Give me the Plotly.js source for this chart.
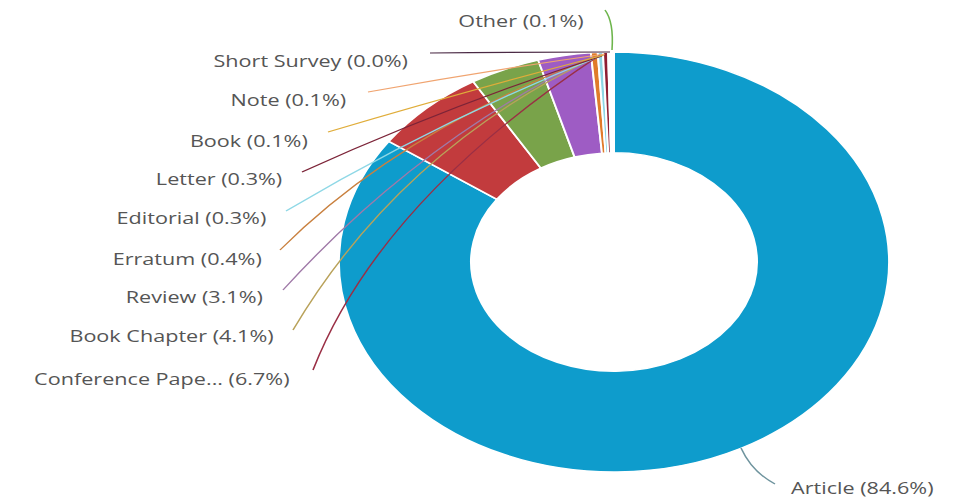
<!DOCTYPE html>
<html>
<head>
<meta charset="utf-8">
<script src="https://cdn.plot.ly/plotly-3.0.1.min.js"></script>
<style>
html,body{margin:0;padding:0;background:#fff;overflow:hidden;}
#wrap{width:956px;height:499px;overflow:hidden;}
#plot{width:730px;height:499px;transform:scaleX(1.309589);transform-origin:0 0;}
</style>
</head>
<body>
<div id="wrap"><div id="plot"></div></div>
<script>
// ---- data ----
const categories = ["Article","Conference Paper","Book Chapter","Review","Erratum","Editorial","Letter","Book","Note","Short Survey","Other"];
const shares = [84.6, 6.7, 4.1, 3.1, 0.4, 0.3, 0.3, 0.1, 0.1, 0.04, 0.1];
const sliceColors = ["#0e9ccc","#c23b3d","#79a34a","#9e5cc4","#e07b2a","#8dd6e4","#8e1f33","#e3a832","#f29a55","#4f2149","#6db54c"];

// ---- label layout (reference pixel positions) ----
// [textX, textY, anchor, lineStartX, lineStartY, ctrlX, ctrlY, lineEndX, lineEndY, lineColor]
const labelLayout = {
  "Article":          [789, 487, "left",  741, 448, 752, 472, 775, 484, "#6f949e"],
  "Conference Paper": [292, 378, "right", 313, 370, 380, 200, 600, 55, "#9a2f45"],
  "Book Chapter":     [276, 335, "right", 293, 330, 400, 150, 596, 57, "#b9a25a"],
  "Review":           [266, 296, "right", 283, 290, 420, 140, 592, 57, "#a07aa8"],
  "Erratum":          [264, 258, "right", 280, 250, 400, 130, 598, 56, "#c9803f"],
  "Editorial":        [269, 217, "right", 286, 211, 440, 120, 603, 55, "#8fd8e6"],
  "Letter":           [285, 178, "right", 302, 172, 450, 105, 602, 56, "#7c2438"],
  "Book":             [311, 140, "right", 328, 132, 470, 90, 604, 55, "#e0ad3a"],
  "Note":             [348, 100, "right", 368, 92, 490, 70, 605, 54, "#f0a470"],
  "Short Survey":     [411, 60,  "right", 430, 53, 520, 52, 610, 52, "#4b2a45"],
  "Other":            [587, 20,  "right", 605, 10, 614, 22, 612, 50, "#6db54c"]
};

const W = 956, H = 499;
const px = x => x / W;
const py = y => 1 - y / H;

const labelText = categories.map((c, i) => {
  const name = c.length > 15 ? c.slice(0, 15) + "..." : c;
  return name + " (" + shares[i].toFixed(1) + "%)";
});

const annotations = categories.map((c, i) => {
  const L = labelLayout[c];
  return {
    xref: "paper", yref: "paper",
    x: px(L[0]), y: py(L[1]),
    xanchor: L[2], yanchor: "middle",
    text: labelText[i], showarrow: false,
    font: {family: "Open Sans, Noto Sans, sans-serif", size: 16.5, color: "#555"}
  };
});

const shapes = categories.map(c => {
  const L = labelLayout[c];
  return {
    type: "path", xref: "paper", yref: "paper", layer: "above",
    path: "M " + px(L[3]) + "," + py(L[4]) + " Q " + px(L[5]) + "," + py(L[6]) + " " + px(L[7]) + "," + py(L[8]),
    line: {color: L[9], width: 1.2}
  };
});

const trace = {
  type: "pie",
  labels: categories,
  values: shares,
  sort: false,
  direction: "clockwise",
  rotation: 0,
  hole: 0.52,
  textinfo: "none",
  hoverinfo: "skip",
  marker: {colors: sliceColors, line: {color: "#ffffff", width: 1.5}},
  domain: {x: [px(614 - 276), px(614 + 276)], y: [py(472), py(52)]}
};

const layout = {
  width: 730, height: 499,
  margin: {l: 0, r: 0, t: 0, b: 0},
  paper_bgcolor: "#ffffff",
  showlegend: false,
  annotations: annotations,
  shapes: shapes
};

Plotly.newPlot("plot", [trace], layout, {displayModeBar: false, staticPlot: true});
</script>
</body>
</html>
